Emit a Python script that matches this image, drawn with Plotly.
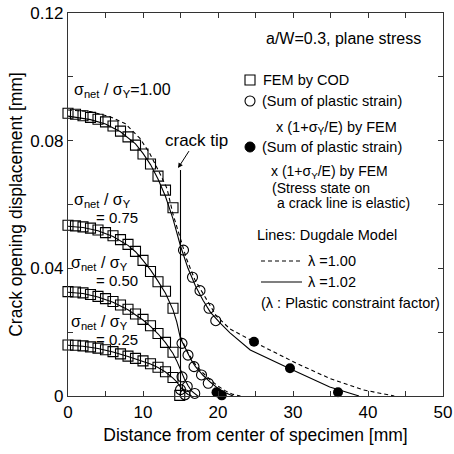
import plotly.graph_objects as go

# ---------------- data ----------------
sq_x = [0, 1, 2, 3, 4, 5, 6, 7, 8, 9, 10, 11, 12, 13, 14]
sq_100 = [0.0886, 0.0883, 0.0878, 0.0873, 0.0867, 0.0859, 0.0846, 0.0830, 0.0812, 0.0786, 0.0758, 0.0727, 0.0689, 0.0645, 0.0590]
sq_075 = [0.0535, 0.0533, 0.0530, 0.0526, 0.0520, 0.0512, 0.0502, 0.0490, 0.0475, 0.0453, 0.0425, 0.0390, 0.0358, 0.0328, 0.0275]
sq_050 = [0.0327, 0.0326, 0.0323, 0.0318, 0.0312, 0.0305, 0.0296, 0.0285, 0.0272, 0.0257, 0.0240, 0.0220, 0.0196, 0.0168, 0.0137]
sq_025 = [0.0160, 0.0159, 0.0157, 0.0154, 0.0150, 0.0145, 0.0139, 0.0132, 0.0125, 0.0118, 0.0110, 0.0101, 0.0090, 0.0076, 0.0058]
sq_tip_x = [14.9]
sq_tip_y = [0.0002]

oc_100_x = [15.4, 16.6, 17.6, 18.8, 19.7]
oc_100_y = [0.0457, 0.0372, 0.0330, 0.0275, 0.0236]
oc_075_x = [15.2, 16.0, 16.8, 17.8, 18.7]
oc_075_y = [0.0165, 0.0128, 0.0092, 0.0066, 0.0040]
oc_050_x = [15.2, 15.9, 16.9]
oc_050_y = [0.0060, 0.0030, 0.0008]
oc_025_x = [15.0, 15.6]
oc_025_y = [0.0020, 0.0004]

fc_x = [19.8, 20.5, 24.8, 29.6, 36.0]
fc_y = [0.0012, 0.0002, 0.0170, 0.0087, 0.0012]

# Dugdale model lines
d100_x = [0, 3, 5.6, 7.6, 9.6, 10.9, 12.3, 13.2, 14.0, 15.0, 15.8, 16.9, 17.8, 19.8, 21.6, 26.0, 30.5, 34.9, 39.4, 43.5]
d100_y = [0.0896, 0.0891, 0.0875, 0.0854, 0.0807, 0.0760, 0.0695, 0.0650, 0.0570, 0.0490, 0.0430, 0.0365, 0.0330, 0.0250, 0.0210, 0.0155, 0.0102, 0.0055, 0.0019, 0.0]
s100_x = [0, 3, 5, 7, 9, 10, 11, 12, 13, 14, 15, 16, 17, 18, 19, 20.3, 21.6, 24.3, 29.6, 34.9, 38.8]
s100_y = [0.0877, 0.0866, 0.0852, 0.0828, 0.0790, 0.0760, 0.0725, 0.0680, 0.0625, 0.0555, 0.0470, 0.0400, 0.0345, 0.0300, 0.0262, 0.0228, 0.0198, 0.0144, 0.0085, 0.0028, 0.0]
s075_x = [0, 2, 4, 6, 8, 9, 10, 11, 12, 13, 14, 14.5, 15, 15.5, 16, 16.5, 17, 18, 19, 20, 21, 22]
s075_y = [0.0532, 0.0528, 0.0518, 0.0500, 0.0472, 0.0452, 0.0425, 0.0395, 0.0360, 0.0322, 0.0270, 0.0232, 0.0180, 0.0155, 0.0130, 0.0110, 0.0092, 0.0065, 0.0043, 0.0024, 0.0010, 0.0]
d075_x = [15, 16, 17, 18, 19, 20, 21, 22, 23]
d075_y = [0.0185, 0.0135, 0.0098, 0.0072, 0.0050, 0.0031, 0.0016, 0.0005, 0.0]
s050_x = [0, 2, 4, 6, 8, 10, 11, 12, 13, 14, 14.5, 15, 15.5, 16, 16.5, 17.3]
s050_y = [0.0325, 0.0321, 0.0310, 0.0294, 0.0270, 0.0238, 0.0218, 0.0195, 0.0167, 0.0133, 0.0110, 0.0080, 0.0055, 0.0033, 0.0015, 0.0]
s025_x = [0, 2, 4, 6, 8, 10, 11, 12, 13, 14, 14.5, 15, 15.5, 16, 16.5]
s025_y = [0.0159, 0.0156, 0.0149, 0.0138, 0.0124, 0.0109, 0.0100, 0.0089, 0.0075, 0.0056, 0.0044, 0.0028, 0.0014, 0.0005, 0.0]

crack_tip_x = 15
crack_tip_top = 0.0708

x_ticks = [0, 10, 20, 30, 40, 50]
y_ticks = [0, 0.04, 0.08, 0.12]
y_ticktext = ["0", "0.04", "0.08", "0.12"]

# ---------------- figure ----------------
FONT = "Arial, Liberation Sans, Helvetica, sans-serif"
DASH = "4px,3px"
L, R, T, B = 68, 443, 13, 396

def P(px, py):
    return (px - L) / (R - L), (B - py) / (B - T)

fig = go.Figure()

def line(x, y, dash):
    fig.add_trace(go.Scatter(x=x, y=y, mode="lines", line=dict(color="black", width=1.1, dash=dash),
                             showlegend=False, hoverinfo="skip"))

line(d100_x, d100_y, DASH)
line(s100_x, s100_y, "solid")
line(d075_x, d075_y, DASH)
line(s075_x, s075_y, "solid")
line(s050_x, s050_y, "solid")
line(s025_x, s025_y, "solid")

sq_style = dict(symbol="square-open", size=10, color="black", line=dict(width=1.1))
for ys in [sq_100, sq_075, sq_050, sq_025]:
    fig.add_trace(go.Scatter(x=sq_x, y=ys, mode="markers", marker=sq_style, cliponaxis=False, showlegend=False))
fig.add_trace(go.Scatter(x=sq_tip_x, y=sq_tip_y, mode="markers", marker=sq_style, cliponaxis=False, showlegend=False))

oc_style = dict(symbol="circle-open", size=10, color="black", line=dict(width=1.1))
for xs, ys in [(oc_100_x, oc_100_y), (oc_075_x, oc_075_y), (oc_050_x, oc_050_y), (oc_025_x, oc_025_y)]:
    fig.add_trace(go.Scatter(x=xs, y=ys, mode="markers", marker=oc_style, cliponaxis=False, showlegend=False))

fig.add_trace(go.Scatter(x=fc_x, y=fc_y, mode="markers",
                         marker=dict(symbol="circle", size=10, color="black"), cliponaxis=False, showlegend=False))

# crack tip line + label
fig.add_shape(type="line", x0=crack_tip_x, x1=crack_tip_x, y0=0, y1=crack_tip_top,
              line=dict(color="black", width=1.1))
fig.add_annotation(x=14.67, y=0.0714, text="crack tip", showarrow=True, arrowhead=2, arrowsize=1,
                   arrowwidth=1, arrowcolor="black", ax=18, ay=-28, axref="pixel", ayref="pixel",
                   font=dict(family=FONT, size=17, color="black"))

def txt(px, py, s, size=14, anchor="left"):
    xp, yp = P(px, py)
    fig.add_annotation(xref="paper", yref="paper", x=xp, y=yp, text=s, showarrow=False,
                       xanchor=anchor, yanchor="middle", font=dict(family=FONT, size=size, color="black"))

sig = "σ<sub>net</sub> / σ<sub>Y</sub>"
txt(72, 90, sig + "=1.00", 16)
txt(72, 200, sig, 16)
txt(94, 217, "= 0.75", 15)
txt(69, 263, sig, 16)
txt(94, 280, "= 0.50", 15)
txt(69, 322, sig, 16)
txt(94, 339, "= 0.25", 15)

txt(343, 38, "a/W=0.3, plane stress", 16, "center")
txt(261, 80, "FEM by COD", 14.5)
txt(260, 101, "(Sum of plastic strain)", 14.5)
txt(274, 128, "x (1+σ<sub>Y</sub>/E) by FEM", 14.5)
txt(260, 147, "(Sum of plastic strain)", 14.5)
txt(269, 172, "x (1+σ<sub>Y</sub>/E) by FEM", 14)
txt(270, 188, "(Stress state on", 14)
txt(275, 203, "a crack line is elastic)", 14)
txt(255, 235, "Lines: Dugdale Model", 14.5)
txt(306, 261, "λ =1.00", 14.5)
txt(306, 282, "λ =1.02", 14.5)
txt(259, 303, "(λ : Plastic constraint factor)", 14.5)

# legend symbols
def rect(px, py, h):
    x0, y0 = P(px - h, py + h)
    x1, y1 = P(px + h, py - h)
    return x0, y0, x1, y1

x0, y0, x1, y1 = rect(250, 80, 5)
fig.add_shape(type="rect", xref="paper", yref="paper", x0=x0, y0=y0, x1=x1, y1=y1, line=dict(color="black", width=1.1))
x0, y0, x1, y1 = rect(250, 101, 5)
fig.add_shape(type="circle", xref="paper", yref="paper", x0=x0, y0=y0, x1=x1, y1=y1, line=dict(color="black", width=1.1))
x0, y0, x1, y1 = rect(250, 147, 5)
fig.add_shape(type="circle", xref="paper", yref="paper", x0=x0, y0=y0, x1=x1, y1=y1, line=dict(color="black", width=1), fillcolor="black")
a0, b0 = P(261, 261); a1, b1 = P(302, 261)
fig.add_shape(type="line", xref="paper", yref="paper", x0=a0, y0=b0, x1=a1, y1=b1, line=dict(color="black", width=1.1, dash=DASH))
a0, b0 = P(261, 282); a1, b1 = P(302, 282)
fig.add_shape(type="line", xref="paper", yref="paper", x0=a0, y0=b0, x1=a1, y1=b1, line=dict(color="black", width=1.1))

axis_common = dict(showgrid=False, zeroline=False, showline=True, linecolor="#333", linewidth=1.3,
                   mirror="ticks", ticks="inside", ticklen=5, tickcolor="#333", tickwidth=1,
                   automargin=False,
                   tickfont=dict(family=FONT, size=17, color="black"))
fig.update_xaxes(range=[0, 50], tickvals=x_ticks,
                 minor=dict(dtick=5, tick0=0, ticks="inside", ticklen=5, tickcolor="#333"),
                 title=dict(text="Distance from center of specimen [mm]", font=dict(family=FONT, size=17.5, color="black"), standoff=8),
                 **axis_common)
fig.update_yaxes(range=[0, 0.12], tickvals=y_ticks, ticktext=y_ticktext,
                 minor=dict(dtick=0.02, tick0=0, ticks="inside", ticklen=5, tickcolor="#333"),
                 title=dict(text="Crack opening displacement [mm]", font=dict(family=FONT, size=17.5, color="black"), standoff=3),
                 **axis_common)

fig.update_layout(width=454, height=454, margin=dict(l=L, r=454 - R, t=T, b=454 - B),
                  paper_bgcolor="white", plot_bgcolor="white", showlegend=False)

fig.write_html("out.html")
